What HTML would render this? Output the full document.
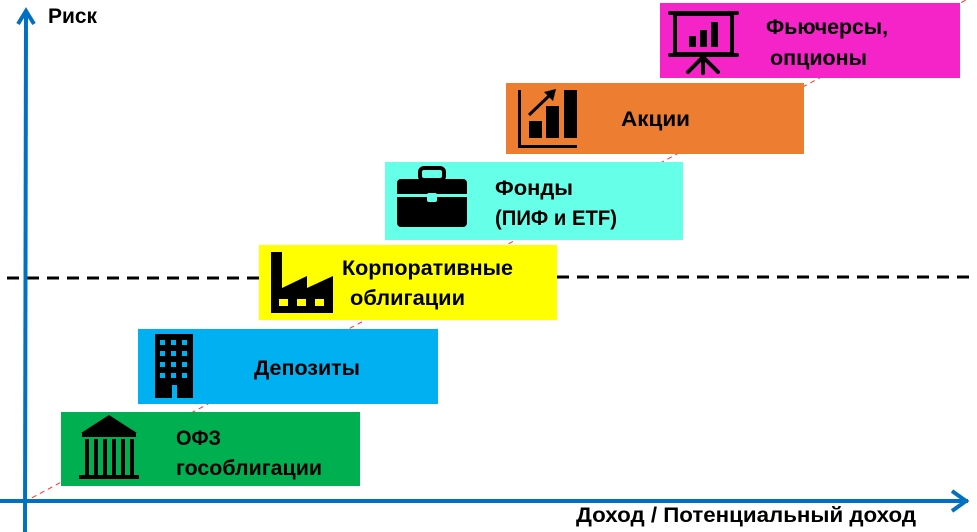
<!DOCTYPE html>
<html><head><meta charset="utf-8"><style>
html,body{margin:0;padding:0;background:#fff;width:977px;height:532px;overflow:hidden}
svg text{font-family:"Liberation Sans",sans-serif;font-weight:bold;fill:#000}
</style></head><body>
<svg width="977" height="532" viewBox="0 0 977 532" xmlns="http://www.w3.org/2000/svg">
<line x1="24" y1="502" x2="966" y2="0" stroke="#ff3030" stroke-width="1" stroke-dasharray="5,4"/>
<rect x="61" y="412" width="299" height="74" fill="#00b050"/>
<rect x="138" y="329" width="300" height="75" fill="#00b0f0"/>
<rect x="259" y="245" width="298" height="75" fill="#ffff00"/>
<rect x="385" y="162" width="298" height="78" fill="#66ffe8"/>
<rect x="506" y="83" width="298" height="71" fill="#ed7d31"/>
<rect x="660" y="3" width="300" height="75" fill="#f424c8"/>
<line x1="7" y1="278" x2="259" y2="278" stroke="#000" stroke-width="3" stroke-dasharray="12,8"/>
<line x1="557" y1="277" x2="977" y2="277" stroke="#000" stroke-width="3" stroke-dasharray="12,8"/>
<line x1="26" y1="14" x2="25" y2="532" stroke="#0070c0" stroke-width="4"/>
<polyline points="18,24 26,11 34,24" fill="none" stroke="#0070c0" stroke-width="4"/>
<line x1="0" y1="501" x2="968" y2="501" stroke="#0070c0" stroke-width="4"/>
<polyline points="952,491 966,501 952,511" fill="none" stroke="#0070c0" stroke-width="4"/>
<text x="48" y="23" font-size="21" textLength="49" lengthAdjust="spacingAndGlyphs">Риск</text>
<text x="576" y="522" font-size="21" textLength="340" lengthAdjust="spacingAndGlyphs">Доход / Потенциальный доход</text>
<g fill="#000">
<polygon points="81,433 109,415 137,433"/>
<rect x="82" y="433" width="54" height="4"/>
<rect x="85" y="439" width="4" height="36"/><rect x="94" y="439" width="4" height="36"/><rect x="103" y="439" width="4" height="36"/><rect x="112" y="439" width="4" height="36"/><rect x="121" y="439" width="4" height="36"/><rect x="130" y="439" width="4" height="36"/>
<rect x="79" y="475" width="60" height="4"/>
</g>
<g fill="#000"><rect x="155" y="334" width="38" height="64"/></g>
<g fill="#00b0f0">
<rect x="160" y="340" width="5" height="5"/><rect x="171" y="340" width="5" height="5"/><rect x="182" y="340" width="5" height="5"/>
<rect x="160" y="351" width="5" height="5"/><rect x="171" y="351" width="5" height="5"/><rect x="182" y="351" width="5" height="5"/>
<rect x="160" y="362" width="5" height="5"/><rect x="171" y="362" width="5" height="5"/><rect x="182" y="362" width="5" height="5"/>
<rect x="160" y="373" width="5" height="5"/><rect x="171" y="373" width="5" height="5"/><rect x="182" y="373" width="5" height="5"/>
<rect x="172" y="385" width="5" height="13"/>
</g>
<polygon points="271,313 271,252 282,252 282,288 307,276 307,288 333,276 333,313" fill="#000"/>
<g fill="#ffff00"><rect x="279" y="299" width="9" height="7"/><rect x="297" y="299" width="9" height="7"/><rect x="315" y="299" width="9" height="7"/></g>
<rect x="420" y="168" width="24" height="12" rx="4" fill="none" stroke="#000" stroke-width="4"/>
<rect x="397" y="179" width="70" height="48" rx="4" fill="#000"/>
<rect x="397" y="194" width="70" height="3" fill="#66ffe8"/>
<rect x="427" y="193" width="10" height="9" rx="2" fill="#66ffe8"/>
<g fill="#000">
<rect x="518" y="90" width="3" height="58"/><rect x="518" y="145" width="59" height="3"/>
<rect x="529" y="121" width="13" height="17"/><rect x="546" y="106" width="13" height="32"/><rect x="564" y="90" width="13" height="48"/>
</g>
<line x1="529" y1="115" x2="551" y2="94" stroke="#000" stroke-width="3"/>
<polygon points="556,89 544,92 553,101" fill="#000"/>
<g fill="none" stroke="#000" stroke-width="4" stroke-linecap="round">
<line x1="670" y1="13" x2="737" y2="13"/>
<rect x="675" y="14" width="57" height="40"/>
<line x1="670" y1="55" x2="737" y2="55"/>
<line x1="703" y1="55" x2="703" y2="73"/>
<line x1="703" y1="57" x2="688" y2="72"/>
<line x1="703" y1="57" x2="718" y2="72"/>
</g>
<g fill="#000"><rect x="689" y="36" width="7" height="11"/><rect x="700" y="30" width="7" height="17"/><rect x="711" y="22" width="7" height="25"/></g>
<text x="176" y="445" font-size="21" textLength="45" lengthAdjust="spacingAndGlyphs">ОФЗ</text>
<text x="176" y="475" font-size="21" textLength="146" lengthAdjust="spacingAndGlyphs">гособлигации</text>
<text x="254" y="375" font-size="21" textLength="106" lengthAdjust="spacingAndGlyphs">Депозиты</text>
<text x="342" y="275" font-size="21" textLength="171" lengthAdjust="spacingAndGlyphs">Корпоративные</text>
<text x="350" y="305" font-size="21" textLength="115" lengthAdjust="spacingAndGlyphs">облигации</text>
<text x="495" y="195" font-size="21" textLength="78" lengthAdjust="spacingAndGlyphs">Фонды</text>
<text x="495" y="225" font-size="21" textLength="122" lengthAdjust="spacingAndGlyphs">(ПИФ и ETF)</text>
<text x="621" y="126" font-size="21" textLength="69" lengthAdjust="spacingAndGlyphs">Акции</text>
<text x="766" y="34" font-size="21" textLength="122" lengthAdjust="spacingAndGlyphs">Фьючерсы,</text>
<text x="770" y="65" font-size="21" textLength="97" lengthAdjust="spacingAndGlyphs">опционы</text>
</svg>
</body></html>
